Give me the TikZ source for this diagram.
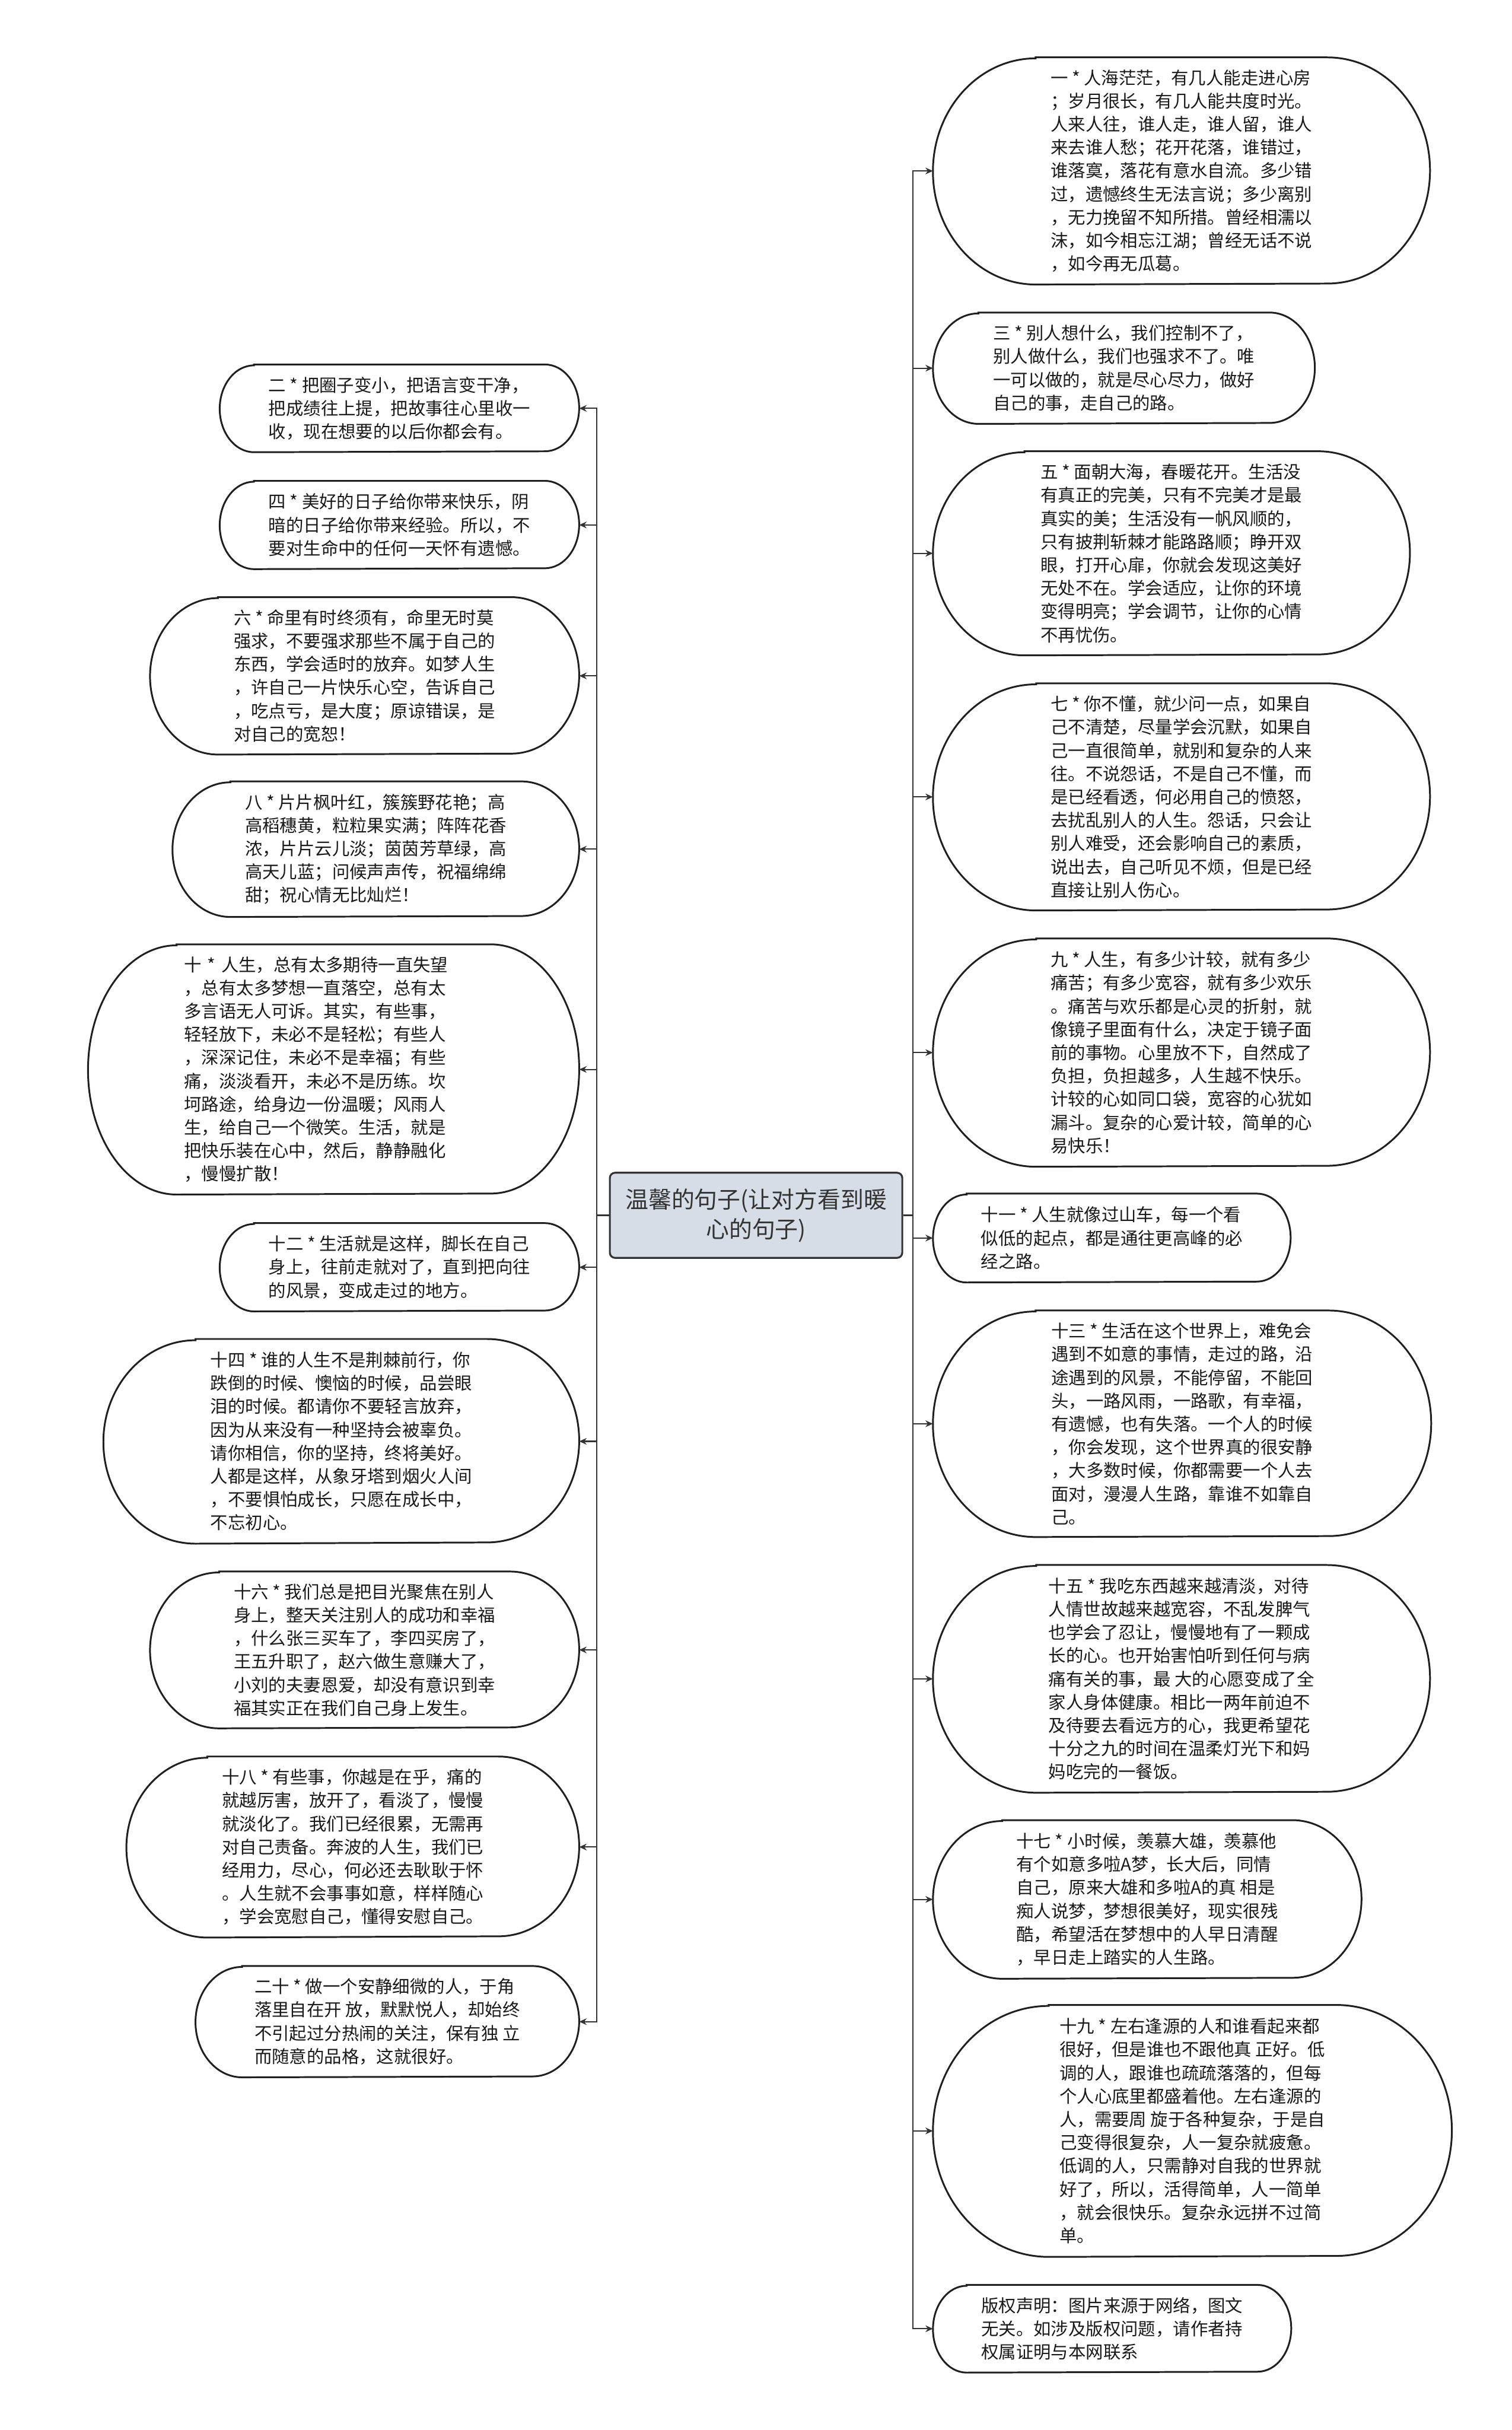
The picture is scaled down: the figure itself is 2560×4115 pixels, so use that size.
\documentclass[tikz,border=0pt]{standalone}
\usepackage{fontspec}
\setmainfont{Noto Sans CJK SC}
\usetikzlibrary{calc}
\usetikzlibrary{arrows.meta}
\definecolor{hubFill}{RGB}{214,221,231}
\definecolor{lineGray}{RGB}{51,51,51}

\begin{document}
\begin{tikzpicture}[x=0.01cm,y=-0.01cm,
  leaf/.style={rectangle, inner sep=0pt, align=left, text=black!90,
    font=\fontsize{8.4}{11.2}\selectfont},
  hub/.style={rectangle, rounded corners=2.5pt, draw=lineGray, line width=0.9pt,
    fill=hubFill, inner sep=0pt, align=center, text=black!80,
    font=\fontsize{11.1}{14.2}\selectfont},
  pill/.style={draw=black!88, line width=0.85pt},
  link/.style={draw=lineGray, line width=0.6pt, -{Stealth[length=3.6pt,width=3.2pt]}},
]
\newcommand\Pill[3]{\draw[pill] ($(#1.north west)+(#2,0)$) -- ($(#1.north east)+(-#2,0)$)
  arc[start angle=-90,end angle=90,x radius=#2,y radius=#3] -- ($(#1.south west)+(#2,0)$)
  arc[start angle=90,end angle=270,x radius=#2,y radius=#3] -- cycle;}
\fill[white] (0,0) rectangle (2560,4115);
\useasboundingbox (0,0) rectangle (2560,4115);

% centre
\node[hub, minimum width=4.95cm, minimum height=1.44cm] (hub) at (1280.5,2058) {温馨的句子(让对方看到暖\\心的句子)};
\coordinate (lj) at (1011,2058);
\coordinate (rj) at (1546.5,2058);

% right side
\node[leaf, minimum width=8.40cm, minimum height=3.83cm] (r1) at (2001,289.5) {一 * 人海茫茫，有几人能走进心房\\；岁月很长，有几人能共度时光。\\人来人往，谁人走，谁人留，谁人\\来去谁人愁；花开花落，谁错过，\\谁落寞，落花有意水自流。多少错\\过，遗憾终生无法言说；多少离别\\，无力挽留不知所措。曾经相濡以\\沫，如今相忘江湖；曾经无话不说\\，如今再无瓜葛。};
\node[leaf, minimum width=6.45cm, minimum height=1.87cm] (r3) at (1903.5,623.5) {三 * 别人想什么，我们控制不了，\\别人做什么，我们也强求不了。唯\\一可以做的，就是尽心尽力，做好\\自己的事，走自己的路。};
\node[leaf, minimum width=8.06cm, minimum height=3.44cm] (r5) at (1984,937) {五 * 面朝大海，春暖花开。生活没\\有真正的完美，只有不完美才是最\\真实的美；生活没有一帆风顺的，\\只有披荆斩棘才能路路顺；睁开双\\眼，打开心扉，你就会发现这美好\\无处不在。学会适应，让你的环境\\变得明亮；学会调节，让你的心情\\不再忧伤。};
\node[leaf, minimum width=8.40cm, minimum height=3.83cm] (r7) at (2001,1349.5) {七 * 你不懂，就少问一点，如果自\\己不清楚，尽量学会沉默，如果自\\己一直很简单，就别和复杂的人来\\往。不说怨话，不是自己不懂，而\\是已经看透，何必用自己的愤怒，\\去扰乱别人的人生。怨话，只会让\\别人难受，还会影响自己的素质，\\说出去，自己听见不烦，但是已经\\直接让别人伤心。};
\node[leaf, minimum width=8.40cm, minimum height=3.85cm] (r9) at (2001,1782.5) {九 * 人生，有多少计较，就有多少\\痛苦；有多少宽容，就有多少欢乐\\。痛苦与欢乐都是心灵的折射，就\\像镜子里面有什么，决定于镜子面\\前的事物。心里放不下，自然成了\\负担，负担越多，人生越不快乐。\\计较的心如同口袋，宽容的心犹如\\漏斗。复杂的心爱计较，简单的心\\易快乐！};
\node[leaf, minimum width=6.04cm, minimum height=1.49cm] (r11) at (1883,2096.5) {十一 * 人生就像过山车，每一个看\\似低的起点，都是通往更高峰的必\\经之路。};
\node[leaf, minimum width=8.42cm, minimum height=3.82cm] (r13) at (2002,2411) {十三 * 生活在这个世界上，难免会\\遇到不如意的事情，走过的路，沿\\途遇到的风景，不能停留，不能回\\头，一路风雨，一路歌，有幸福，\\有遗憾，也有失落。一个人的时候\\，你会发现，这个世界真的很安静\\，大多数时候，你都需要一个人去\\面对，漫漫人生路，靠谁不如靠自\\己。};
\node[leaf, minimum width=8.40cm, minimum height=3.84cm] (r15) at (2001,2843) {十五 * 我吃东西越来越清淡，对待\\人情世故越来越宽容，不乱发脾气\\也学会了忍让，慢慢地有了一颗成\\长的心。也开始害怕听到任何与病\\痛有关的事，最 大的心愿变成了全\\家人身体健康。相比一两年前迫不\\及待要去看远方的心，我更希望花\\十分之九的时间在温柔灯光下和妈\\妈吃完的一餐饭。};
\node[leaf, minimum width=7.24cm, minimum height=2.67cm] (r17) at (1943,3216.5) {十七 * 小时候，羡慕大雄，羡慕他\\有个如意多啦A梦，长大后，同情\\自己，原来大雄和多啦A的真 相是\\痴人说梦，梦想很美好，现实很残\\酷，希望活在梦想中的人早日清醒\\，早日走上踏实的人生路。};
\node[leaf, minimum width=8.77cm, minimum height=4.25cm] (r19) at (2019.5,3608.5) {十九 * 左右逢源的人和谁看起来都\\很好，但是谁也不跟他真 正好。低\\调的人，跟谁也疏疏落落的，但每\\个人心底里都盛着他。左右逢源的\\人，需要周 旋于各种复杂，于是自\\己变得很复杂，人一复杂就疲惫。\\低调的人，只需静对自我的世界就\\好了，所以，活得简单，人一简单\\，就会很快乐。复杂永远拼不过简\\单。};
\node[leaf, minimum width=6.05cm, minimum height=1.47cm] (rc) at (1883.5,3943.5) {版权声明：图片来源于网络，图文\\无关。如涉及版权问题，请作者持\\权属证明与本网联系};

% left side
\node[leaf, minimum width=6.07cm, minimum height=1.47cm] (l2) at (676.5,691.5) {二 * 把圈子变小，把语言变干净，\\把成绩往上提，把故事往心里收一\\收，现在想要的以后你都会有。};
\node[leaf, minimum width=6.07cm, minimum height=1.48cm] (l4) at (676.5,889) {四 * 美好的日子给你带来快乐，阴\\暗的日子给你带来经验。所以，不\\要对生命中的任何一天怀有遗憾。};
\node[leaf, minimum width=7.25cm, minimum height=2.65cm] (l6) at (617.5,1144.5) {六 * 命里有时终须有，命里无时莫\\强求，不要强求那些不属于自己的\\东西，学会适时的放弃。如梦人生\\，许自己一片快乐心空，告诉自己\\，吃点亏，是大度；原谅错误，是\\对自己的宽恕！};
\node[leaf, minimum width=6.87cm, minimum height=2.28cm] (l8) at (636.5,1438) {八 * 片片枫叶红，簇簇野花艳；高\\高稻穗黄，粒粒果实满；阵阵花香\\浓，片片云儿淡；茵茵芳草绿，高\\高天儿蓝；问候声声传，祝福绵绵\\甜；祝心情无比灿烂！};
\node[leaf, minimum width=8.30cm, minimum height=4.22cm, text width=5.06cm] (l10) at (565,1811) {十 * 人生，总有太多期待一直失望\\，总有太多梦想一直落空，总有太\\多言语无人可诉。其实，有些事，\\轻轻放下，未必不是轻松；有些人\\，深深记住，未必不是幸福；有些\\痛，淡淡看开，未必不是历练。坎\\坷路途，给身边一份温暖；风雨人\\生，给自己一个微笑。生活，就是\\把快乐装在心中，然后，静静融化\\，慢慢扩散！};
\node[leaf, minimum width=6.07cm, minimum height=1.48cm] (l12) at (676.5,2146) {十二 * 生活就是这样，脚长在自己\\身上，往前走就对了，直到把向往\\的风景，变成走过的地方。};
\node[leaf, minimum width=8.04cm, minimum height=3.45cm] (l14) at (578,2440.75) {十四 * 谁的人生不是荆棘前行，你\\跌倒的时候、懊恼的时候，品尝眼\\泪的时候。都请你不要轻言放弃，\\因为从来没有一种坚持会被辜负。\\请你相信，你的坚持，终将美好。\\人都是这样，从象牙塔到烟火人间\\，不要惧怕成长，只愿在成长中，\\不忘初心。};
\node[leaf, minimum width=7.25cm, minimum height=2.64cm] (l16) at (617.5,2794) {十六 * 我们总是把目光聚焦在别人\\身上，整天关注别人的成功和幸福\\，什么张三买车了，李四买房了，\\王五升职了，赵六做生意赚大了，\\小刘的夫妻恩爱，却没有意识到幸\\福其实正在我们自己身上发生。};
\node[leaf, minimum width=7.65cm, minimum height=3.05cm] (l18) at (597.5,3127.75) {十八 * 有些事，你越是在乎，痛的\\就越厉害，放开了，看淡了，慢慢\\就淡化了。我们已经很累，无需再\\对自己责备。奔波的人生，我们已\\经用力，尽心，何必还去耿耿于怀\\。人生就不会事事如意，样样随心\\，学会宽慰自己，懂得安慰自己。};
\node[leaf, minimum width=6.48cm, minimum height=1.87cm] (l20) at (656,3423.5) {二十 * 做一个安静细微的人，于角\\落里自在开 放，默默悦人，却始终\\不引起过分热闹的关注，保有独 立\\而随意的品格，这就很好。};

% outlines
\foreach \n/\r/\s in {r1/174/191.5, r3/77/93.5, r5/155/172, r7/175/191.5, r9/175/192.5,
  r11/57/74.5, r13/174/191, r15/175/192, r17/117/133.5, r19/196/212.5, rc/57/73.5,
  l2/58/73.5, l4/58/74, l6/115/132.5, l8/98/114, l10/150/211, l12/58/74,
  l14/156/172.25, l16/117/132, l18/137/152.25, l20/79/93.5}
  \Pill{\n}{\r}{\s};

% connectors
\foreach \n in {r1,r3,r5,r7,r9,r11,r13,r15,r17,r19,rc}
  \draw[link] (hub.east) -- (rj) |- (\n.west);
\foreach \n in {l2,l4,l6,l8,l10,l12,l14,l16,l18,l20}
  \draw[link] (hub.west) -- (lj) |- (\n.east);
\end{tikzpicture}
\end{document}
